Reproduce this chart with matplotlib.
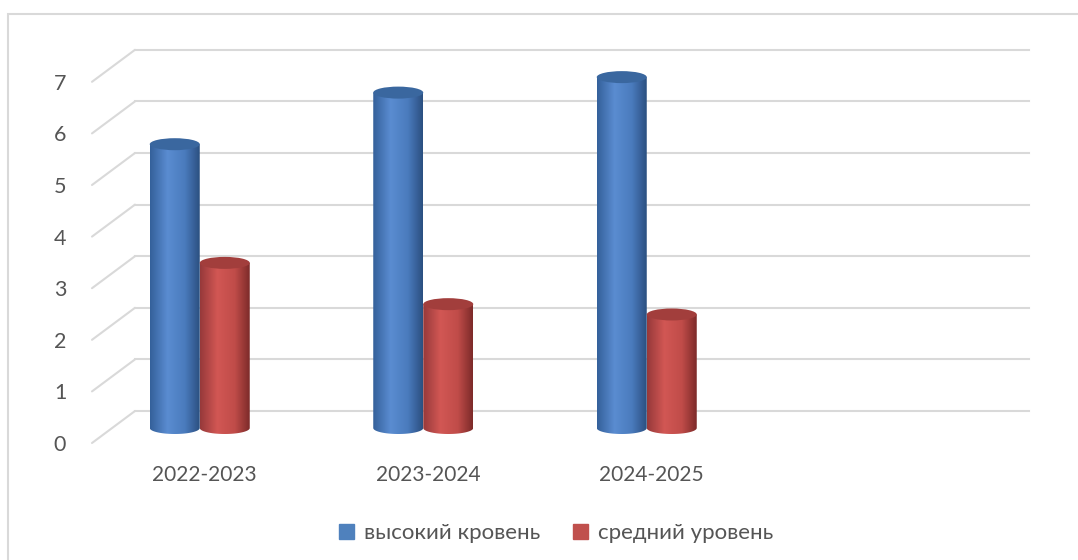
# 3D-style cylinder bar chart: high vs middle level by school year

import numpy as np
import matplotlib
matplotlib.use('Agg')
import matplotlib.pyplot as plt
from matplotlib.patches import Ellipse, Polygon, Patch, Rectangle
from matplotlib.colors import LinearSegmentedColormap
from matplotlib.transforms import offset_copy

# data
years = ['2022-2023', '2023-2024', '2024-2025', '']  # last category is empty
high = [5.5, 6.5, 6.8]
middle = [3.2, 2.4, 2.2]
yticks = [0, 1, 2, 3, 4, 5, 6, 7]
names = ['высокий кровень', 'средний уровень']

plt.rcParams['font.family'] = ['Lato', 'DejaVu Sans']

W, H = 1078, 560
unit = 51.6  # pixels per value unit
fig = plt.figure(figsize=(W / 100, H / 100), dpi=100)
ax = fig.add_axes([88 / W, (132 - 0.5 * unit) / H, 894 / W, 8 * unit / H])
ax.axis('off')

grid_c = '#d9d9d9'
text_c = '#555555'

# chart border
fig.patches.append(Rectangle((8 / W, -0.1), 1.2, (H - 14) / H + 0.1, transform=fig.transFigure,
                             fill=False, edgecolor=grid_c, lw=1.5))

back = offset_copy(ax.transData, fig, x=47, y=17, units='dots')
front = offset_copy(ax.transData, fig, x=4, y=-15, units='dots')
x0 = -0.5
x1 = len(years) - 0.5

# gridlines on back wall + side wall diagonals
for v in yticks:
    ax.plot([x0, x1], [v, v], color=grid_c, lw=1.5, transform=back, clip_on=False, zorder=1)
    ax.annotate('', xy=(x0, v), xycoords=back, xytext=(x0, v), textcoords=front,
                arrowprops=dict(arrowstyle='-', color=grid_c, lw=1.5, shrinkA=0, shrinkB=0),
                annotation_clip=False, zorder=1)
    ax.annotate(str(v), xy=(x0, v), xycoords=front, xytext=(-32, -2), textcoords='offset pixels',
                ha='center', va='center', fontsize=15.5, color=text_c, annotation_clip=False)

for i, lab in enumerate(years):
    ax.annotate(lab, xy=(i, 0), xytext=(5, -47), textcoords='offset pixels',
                ha='center', va='center', fontsize=15, color=text_c, annotation_clip=False)

# cylinders
bw = 50 / 894 * len(years)
eh = 12 / unit
grad = np.linspace(0, 1, 256).reshape(1, -1)

blue_cmap = LinearSegmentedColormap.from_list('b', [(0, '#34609a'), (0.35, '#5a8cd1'),
                                                    (0.7, '#4a7bbd'), (1, '#2b4f80')])
red_cmap = LinearSegmentedColormap.from_list('r', [(0, '#96393a'), (0.35, '#d25754'),
                                                   (0.7, '#c04c49'), (1, '#7c2a29')])


def cylinder(x, v, cmap, top_color, z):
    half = bw / 2
    t = np.linspace(np.pi, 2 * np.pi, 60)
    xs = x + half * np.cos(t)
    ys = eh / 2 * np.sin(t)
    pts = np.column_stack([np.r_[xs, x + half, x - half], np.r_[ys, v, v]])
    clip = Polygon(pts, closed=True, transform=ax.transData)
    im = ax.imshow(grad, cmap=cmap, extent=[x - half, x + half, -eh / 2, v], aspect='auto',
                   interpolation='bilinear', zorder=z)
    im.set_clip_path(clip)
    ax.add_patch(Ellipse((x, v), bw, eh, facecolor=top_color, edgecolor='none', zorder=z + 0.1))


for i in range(len(high)):
    cylinder(i - bw / 2, high[i], blue_cmap, '#3a679f', 3 + i)
    cylinder(i + bw / 2, middle[i], red_cmap, '#a23e3c', 3.5 + i)

ax.set_xlim(x0, x1)
ax.set_ylim(-0.5, 7.5)

handles = [Patch(color='#4f81bd'), Patch(color='#c0504d')]
fig.legend(handles, names, loc='center', bbox_to_anchor=(0.516, 0.048), ncol=2, frameon=False,
           fontsize=16, labelcolor=text_c, handlelength=0.65, handleheight=0.65,
           handletextpad=0.45, columnspacing=1.5)

fig.savefig('out.png', dpi=100)
